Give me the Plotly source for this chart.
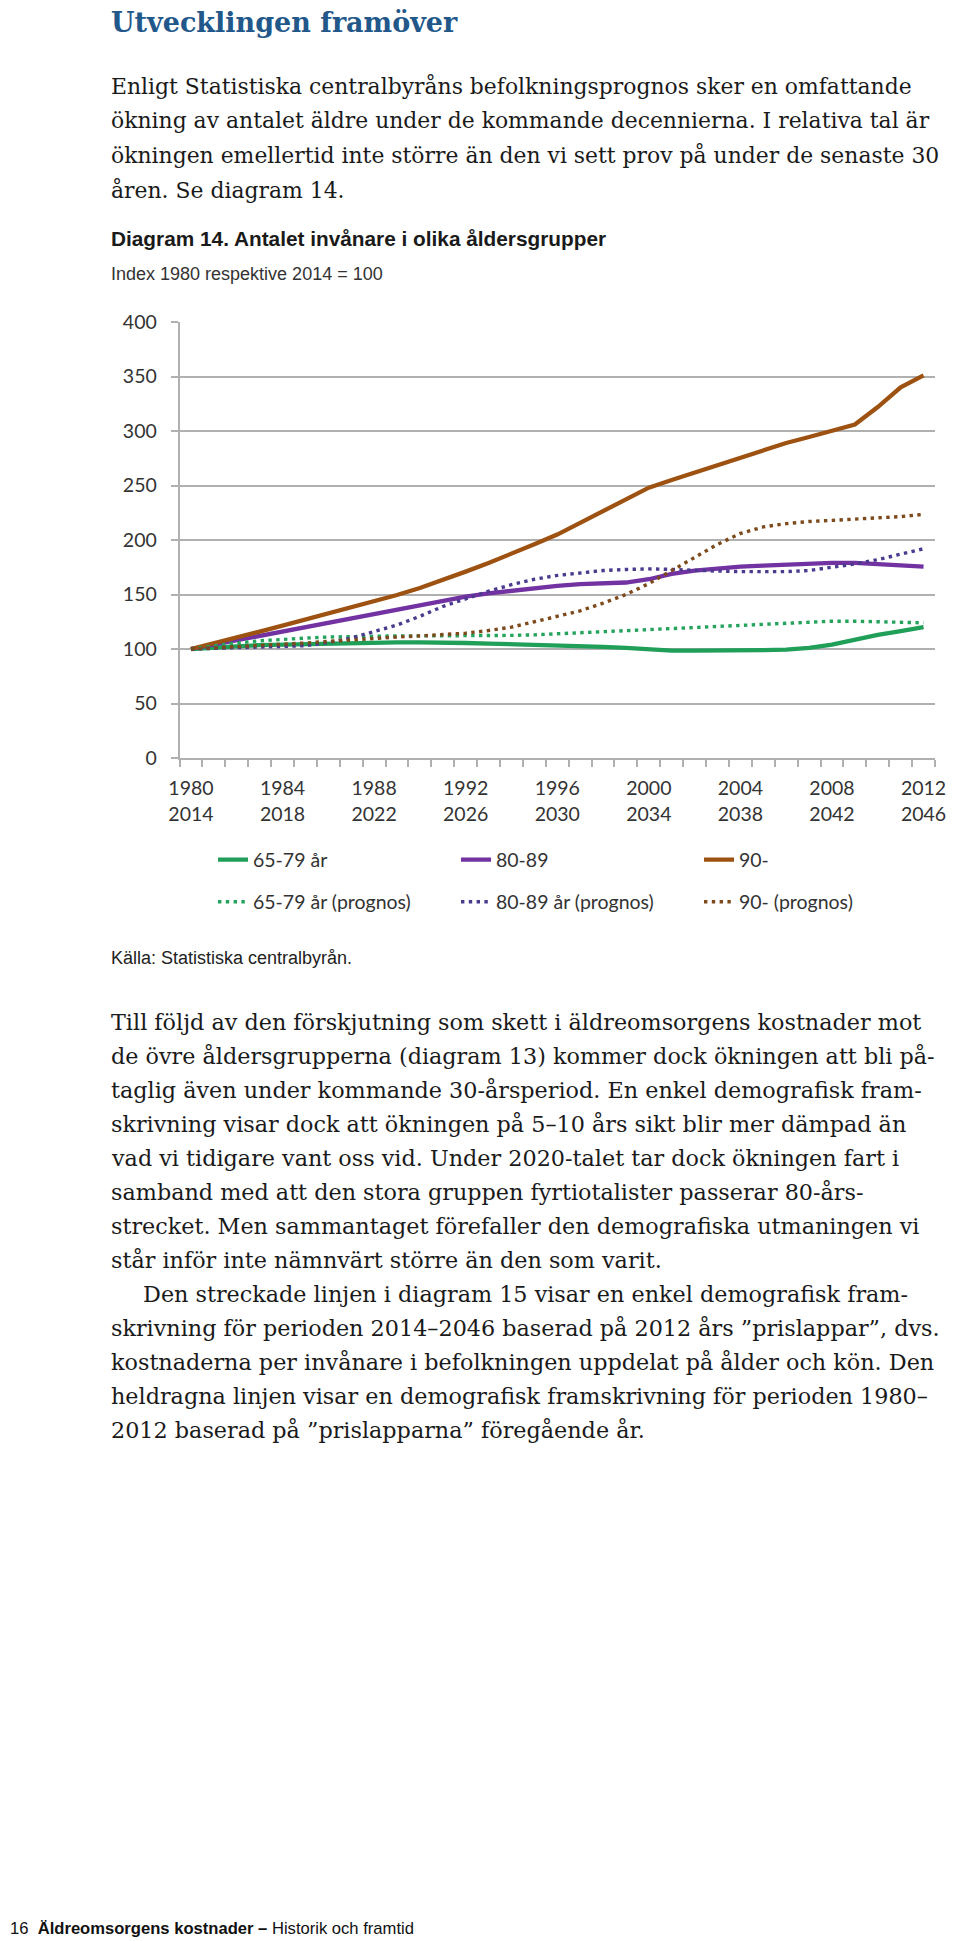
import plotly.graph_objects as go

# page is 960x1941; the browser body keeps an 8px margin, so the figure is 952x1933
PAGE_W, PAGE_H = 960, 1941
OFF = 8
W, H = PAGE_W - OFF, PAGE_H - OFF

# ---------------- data ----------------
years = list(range(1980, 2013))
label_years = [1980, 1984, 1988, 1992, 1996, 2000, 2004, 2008, 2012]
label_years_prognos = [2014, 2018, 2022, 2026, 2030, 2034, 2038, 2042, 2046]

s_6579 = [100, 101.5, 102.5, 103.5, 104, 104.5, 105, 105.5, 106, 106, 106, 106, 105.5, 105, 104.5, 104,
          103.5, 103, 102, 101, 99.5, 98.5, 98.5, 98.5, 98.5, 99, 99.5, 101, 104, 109, 113, 116.5, 120]
s_8089 = [100, 104, 108, 112, 116, 120, 124, 128, 132, 136, 140.5, 144, 148, 151, 153.5, 156,
          158, 159.5, 160, 161, 164, 169, 172, 174, 175.5, 176.5, 177.5, 178.5, 179, 179, 178, 176.5, 175.5]
s_90 = [100, 105, 110.5, 116, 121.5, 127, 132.5, 138, 143.5, 149.5, 156, 163, 171, 179, 187, 196,
        205, 216, 227, 238, 248, 255, 262, 268, 275, 283, 289, 294.5, 300, 306, 322, 340, 351]
p_6579 = [100, 103, 105.5, 107.5, 109, 110, 111, 111.5, 112, 112, 112, 112, 112, 112, 112.5, 113,
          114, 115, 116, 117, 118, 119, 120, 121, 122, 123, 124, 125, 125.5, 125.5, 125, 124.5, 124]
p_8089 = [100, 100.5, 101, 102, 102.5, 103, 106, 110, 116, 122, 130, 139, 146, 153, 159, 164,
          167.5, 170, 172, 173, 173.5, 173, 172, 171.5, 171, 171, 171, 172, 175, 178, 182, 187, 192]
p_90 = [100, 101, 102, 103, 104, 105.5, 107, 108.5, 110, 111, 112, 113, 114.5, 117, 120, 125,
        130, 135, 142, 150, 160, 172, 184, 196, 206, 212, 215, 217, 218, 219, 220, 221.5, 223.5]

series_names = ["65-79 år", "80-89", "90-", "65-79 år (prognos)", "80-89 år (prognos)", "90- (prognos)"]
y_ticks = [0, 50, 100, 150, 200, 250, 300, 350, 400]

# ---------------- text ----------------
title_text = "Utvecklingen framöver"
para1 = [
    "Enligt Statistiska centralbyråns befolkningsprognos sker en omfattande",
    "ökning av antalet äldre under de kommande decennierna. I relativa tal är",
    "ökningen emellertid inte större än den vi sett prov på under de senaste 30",
    "åren. Se diagram 14.",
]
para2 = [
    "Till följd av den förskjutning som skett i äldreomsorgens kostnader mot",
    "de övre åldersgrupperna (diagram 13) kommer dock ökningen att bli på-",
    "taglig även under kommande 30-årsperiod. En enkel demografisk fram-",
    "skrivning visar dock att ökningen på 5–10 års sikt blir mer dämpad än",
    "vad vi tidigare vant oss vid. Under 2020-talet tar dock ökningen fart i",
    "samband med att den stora gruppen fyrtiotalister passerar 80-års-",
    "strecket. Men sammantaget förefaller den demografiska utmaningen vi",
    "står inför inte nämnvärt större än den som varit.",
    "Den streckade linjen i diagram 15 visar en enkel demografisk fram-",
    "skrivning för perioden 2014–2046 baserad på 2012 års ”prislappar”, dvs.",
    "kostnaderna per invånare i befolkningen uppdelat på ålder och kön. Den",
    "heldragna linjen visar en demografisk framskrivning för perioden 1980–",
    "2012 baserad på ”prislapparna” föregående år.",
]

# ---------------- styling ----------------
GREEN, PURPLE, BROWN = "#1f9f58", "#7232a2", "#9e5212"
GREEN_D, PURPLE_D, BROWN_D = "#23a35c", "#4b3a8e", "#7d4a1c"
GRID = "#b0b0b0"
CHART_FONT = "Lato"
SERIF = "DejaVu Serif"
SANS = "Liberation Sans"


def px_x(x):
    return (x - OFF) / W


def px_y(y):
    return 1 - (y - OFF) / H


fig = go.Figure()

solid = [(s_6579, GREEN), (s_8089, PURPLE), (s_90, BROWN)]
dotted = [(p_6579, GREEN_D), (p_8089, PURPLE_D), (p_90, BROWN_D)]

for (vals, col), name in zip(solid, series_names[:3]):
    fig.add_trace(go.Scatter(x=years, y=vals, mode="lines", name=name,
                             line=dict(color=col, width=4.3), legend="legend"))
for (vals, col), name in zip(dotted, series_names[3:]):
    fig.add_trace(go.Scatter(x=years, y=vals, mode="lines", name=name,
                             line=dict(color=col, width=3.4, dash="3.4px,4.4px"), legend="legend2"))

ticktext = [f"{a}<br>{b}" for a, b in zip(label_years, label_years_prognos)]
boundaries = [y - 0.5 for y in years] + [years[-1] + 0.5]

fig.update_xaxes(
    domain=[px_x(179.5), px_x(935)],
    range=[years[0] - 0.5, years[-1] + 0.5],
    tickmode="array", tickvals=label_years, ticktext=ticktext,
    ticks="", showgrid=False, zeroline=False, automargin=False,
    showline=True, linecolor=GRID, linewidth=1.6,
    tickfont=dict(family=CHART_FONT, size=19.5, color="#333333"),
    ticklabelstandoff=12,
    minor=dict(tickmode="array", tickvals=boundaries, ticks="outside", ticklen=7,
               tickwidth=1.5, tickcolor=GRID, showgrid=False),
)
fig.update_yaxes(
    domain=[px_y(758), px_y(322)],
    range=[0, 400], tickmode="array", tickvals=y_ticks,
    showgrid=True, gridcolor=GRID, gridwidth=1.7, zeroline=False, automargin=False,
    showline=True, linecolor=GRID, linewidth=1.6,
    ticks="outside", ticklen=7, tickwidth=1.5, tickcolor=GRID,
    tickfont=dict(family=CHART_FONT, size=19.5, color="#333333"),
    ticklabelstandoff=10,
)

anns = []


def add_text(text, x, y, size, family, color="#1a1a1a", xanchor="left"):
    anns.append(dict(text=text, x=px_x(x), y=px_y(y), xref="paper", yref="paper",
                     xanchor=xanchor, yanchor="middle", showarrow=False,
                     font=dict(family=family, size=size, color=color)))


add_text(f"<b>{title_text}</b>", 109, 22.5, 27, SERIF, color="#22578a")
for i, line in enumerate(para1):
    add_text(line, 109, 86 + 34.6 * i, 21.9, SERIF)
add_text("<b>Diagram 14. Antalet invånare i olika åldersgrupper</b>", 109, 239, 20.8, SANS)
add_text("Index 1980 respektive 2014 = 100", 109, 274, 18, SANS, color="#333333")
add_text("Källa: Statistiska centralbyrån.", 109, 958, 18, SANS, color="#222222")
for i, line in enumerate(para2):
    x0 = 141 if i == 8 else 109
    add_text(line, x0, 1022 + 34.0 * i, 22.3, SERIF)
add_text("16  <b>Äldreomsorgens kostnader –</b> Historik och framtid", 8, 1928, 16.6, SANS, color="#111111")

legend_common = dict(orientation="h", xanchor="left", yanchor="middle",
                     entrywidth=198, entrywidthmode="pixels",
                     font=dict(family=CHART_FONT, size=19.5, color="#333333"),
                     bgcolor="rgba(0,0,0,0)", borderwidth=0)

fig.update_layout(
    width=W, height=H,
    margin=dict(l=0, r=0, t=0, b=0, autoexpand=False),
    paper_bgcolor="white", plot_bgcolor="white",
    annotations=anns,
    showlegend=True,
    legend=dict(x=px_x(213), y=px_y(860), **legend_common),
    legend2=dict(x=px_x(213), y=px_y(902), **legend_common),
)

fig.write_html("out.html")
